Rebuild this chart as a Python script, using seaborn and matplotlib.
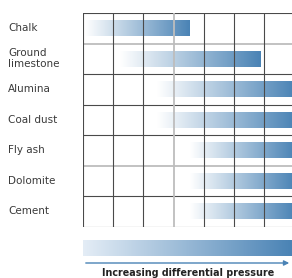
import numpy as np
import pandas as pd
import matplotlib
matplotlib.use("Agg")
import matplotlib.pyplot as plt
import matplotlib.transforms as mtransforms
from matplotlib.colors import LinearSegmentedColormap
import seaborn as sns

# data (in grid-column units, 7 columns of increasing differential pressure)
materials = ["Chalk", "Ground\nlimestone", "Alumina", "Coal dust", "Fly ash", "Dolomite", "Cement"]
range_start = [0.07, 1.22, 2.45, 2.45, 3.54, 3.54, 3.54]
range_end = [3.54, 5.86, 7.0, 7.0, 7.0, 7.0, 7.0]
axis_label = "Increasing differential pressure"

BLUE = "#4a83b5"
bar_cmap = LinearSegmentedColormap.from_list("bar", ["#ffffff", BLUE])
scale_cmap = LinearSegmentedColormap.from_list("scale", ["#e4edf6", BLUE])

sns.set_style("white")
plt.rcParams["font.family"] = ["DejaVu Sans"]

fig = plt.figure(figsize=(2.92, 2.78), dpi=100)
W, H = 292, 278
ax = fig.add_axes([83 / W, 51.5 / H, 211.4 / W, 213.5 / H])

df = pd.DataFrame({"material": materials, "end": range_end})
sns.barplot(data=df, x="end", y="material", orient="h", ax=ax,
            color=BLUE, width=0.53, order=materials)

# turn each bar into a left->right white-to-blue gradient
grad = np.linspace(0, 1, 256).reshape(1, -1)
for patch, s, e in zip(ax.patches, range_start, range_end):
    patch.set_x(s)
    patch.set_width(e - s)
    patch.set_facecolor("none")
    patch.set_edgecolor("none")
    y0 = patch.get_y()
    h = patch.get_height()
    im = ax.imshow(grad, cmap=bar_cmap, aspect="auto",
                   extent=(s, e, y0 + h, y0), zorder=1, interpolation="bilinear")
    im.set_clip_path(patch)

ax.set_xlim(0, 7)
ax.set_ylim(6.5, -0.5)

# grid
light_h = {0.5, 4.5}
light_v = {3}
for yy in np.arange(-0.5, 7.0, 1.0):
    if yy in light_h:
        ax.axhline(yy, color="#bdbdbd", lw=1.3, zorder=3)
    else:
        ax.axhline(yy, color="#4a4a4a", lw=0.8, zorder=3)
for xx in range(0, 8):
    if xx in light_v:
        ax.axvline(xx, color="#bdbdbd", lw=1.3, zorder=3)
    else:
        ax.axvline(xx, color="#4a4a4a", lw=0.8, zorder=3)

ax.set_xlabel("")
ax.set_ylabel("")
ax.set_xticks([])
ax.set_yticks([])
for sp in ax.spines.values():
    sp.set_visible(False)

# row labels, left aligned
trans = mtransforms.blended_transform_factory(fig.transFigure, ax.transData)
for i, name in enumerate(materials):
    fig.text(8 / W, i, name, transform=trans, ha="left", va="center",
             fontsize=7.5, color="#3a3a3a", linespacing=1.15)

# pressure scale bar
ax2 = fig.add_axes([83 / W, 22 / H, 209 / W, 16 / H])
ax2.imshow(grad, cmap=scale_cmap, aspect="auto", extent=(0, 1, 0, 1),
           interpolation="bilinear")
ax2.set_xlim(0, 1)
ax2.set_ylim(0, 1)
ax2.axis("off")

fig.add_artist(matplotlib.patches.FancyArrowPatch(
    (83 / W, 15 / H), (292 / W, 15 / H), transform=fig.transFigure,
    arrowstyle="-|>,head_length=3,head_width=1.5", color=BLUE, lw=1.0))

fig.text(188 / W, 5 / H, axis_label, ha="center", va="center",
         fontsize=6.9, fontweight="bold", color="#222222")

fig.savefig("out.png", dpi=100)
